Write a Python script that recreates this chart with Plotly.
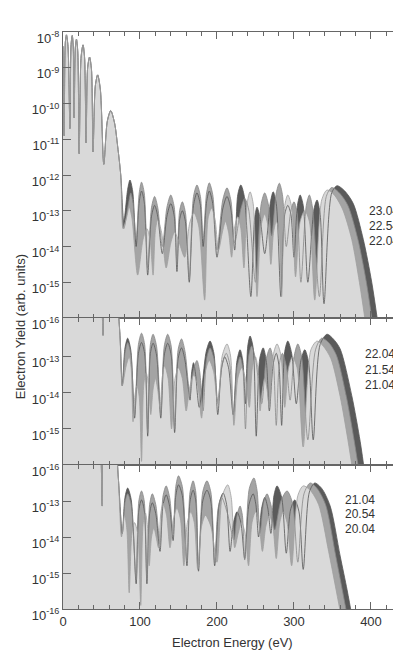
import plotly.graph_objects as go

X_MAX = 439

# ============ data: (electron energy in eV, log10 of yield) ============
# ---- Panel 1 (top): 23.04 / 22.54 / 22.04 ----
P1_LOW = [(0, -8.4), (1.5, -10.9), (3, -8.3), (4.5, -8.08), (6.5, -8.4), (9, -10.7), (10.5, -8.35), (12, -8.1),
          (13.3, -8.4), (14.5, -10.4), (16, -8.45), (17.5, -8.2), (19.2, -8.55), (21, -11.4), (23.5, -8.7), (26, -8.36),
          (28, -8.7), (30, -11.1), (32, -9.0), (34.5, -8.7), (37, -9.05), (39, -11.35), (42, -9.5), (45, -9.2),
          (48.5, -9.6), (53, -11.7), (57.5, -10.5), (62, -10.2), (67, -10.55), (71, -11.2), (75, -12.0)]

P1_DARK = [(79, -13.3), (84, -12.4), (87, -12.14), (90.5, -12.45), (95, -14.0), (99, -12.75), (102, -12.45), (105.5, -12.75),
           (110, -14.8), (115, -13.15), (119, -12.85), (123, -13.15), (129, -14.2), (135, -13.15), (140, -12.8), (144.5, -13.15),
           (148, -14.7), (151.5, -13.25), (155, -13.0), (159, -13.3), (164, -15.0), (169.5, -12.85), (174, -12.5), (178.5, -12.85),
           (182, -14.0), (186.5, -12.75), (190, -12.45), (194.5, -12.8), (200, -14.3), (207.5, -12.95), (213, -12.6), (218, -12.95),
           (223, -14.1), (227, -12.55), (231, -12.28), (235.5, -12.6), (244, -15.4), (249, -13.2), (252, -12.9), (256, -13.2),
           (262, -14.2), (269.5, -12.75), (273, -12.47), (277, -12.8), (283, -15.4), (288, -13.1), (292, -12.85), (296, -13.1),
           (300, -14.3), (304.5, -12.85), (308, -12.56), (312, -12.85), (318, -15.0), (326, -12.95), (330, -12.7), (334, -13.1),
           (339, -15.6), (349, -12.5), (356, -12.3), (366, -12.45), (377, -12.8), (390, -13.8), (401, -15.0), (410, -16.3)]

P1_MID = [(79, -13.5), (85, -12.8), (88, -12.5), (91, -12.8), (95, -13.8), (99, -12.5), (102, -12.2), (105.5, -12.5),
          (110, -14.6), (115, -12.9), (119, -12.6), (123, -12.9), (129, -14.0), (135, -12.9), (140, -12.56), (144.5, -12.9),
          (148, -14.5), (151.5, -13.0), (155, -12.75), (159, -13.05), (164, -14.9), (169.5, -12.6), (174, -12.28), (178.5, -12.6),
          (182, -13.8), (186.5, -12.5), (190, -12.22), (194.5, -12.55), (200, -14.1), (207.5, -12.7), (213, -12.36), (218, -12.7),
          (223, -13.9), (231, -12.95), (236, -12.65), (241, -12.95), (250, -15.0), (257.5, -12.8), (262, -12.5), (266.5, -12.8),
          (271, -13.7), (277, -12.5), (281, -12.23), (285, -12.55), (290, -14.0), (296, -13.0), (300, -12.75), (304, -13.05),
          (309, -15.0), (316, -12.85), (320, -12.56), (324, -12.9), (333, -15.4), (342, -12.6), (349, -12.35), (359, -12.5),
          (370, -12.85), (383, -13.8), (394, -15.0), (403, -16.3)]

P1_LIGHT = [(78, -13.5), (83, -13.15), (86, -12.9), (89.5, -13.2), (97, -14.8), (104, -13.8), (109, -13.5), (113, -13.8),
            (117, -14.8), (120, -13.55), (123, -13.26), (128, -13.6), (134, -14.6), (140, -13.9), (145, -13.6), (151, -13.9),
            (158, -14.3), (164.5, -13.35), (170, -13.06), (176, -13.4), (184, -15.5), (188.5, -13.2), (193, -12.93), (197.5, -13.25),
            (202, -14.1), (207, -13.6), (211, -13.3), (215, -13.6), (219, -14.3), (223, -13.45), (227, -13.17), (231, -13.5),
            (235, -14.6), (239.5, -12.75), (243, -12.47), (247, -12.8), (252, -15.4), (257.5, -13.4), (262, -13.1), (266, -13.4),
            (270, -14.5), (273.5, -13.6), (277, -13.3), (280.5, -13.6), (284, -15.4), (288, -12.85), (292, -12.56), (297, -12.9),
            (302, -14.85), (308, -13.3), (314, -13.0), (320, -13.3), (327, -15.5), (336, -12.7), (343, -12.42), (352, -12.55),
            (363, -12.95), (375, -13.8), (385, -15.0), (394, -16.3)]
P1_LABELS = ["23.04", "22.54", "22.04"]

# ---- Panel 2 (middle): 22.04 / 21.54 / 21.04 ----
P2_LOW = [(0, -9.0), (5, -8.5), (12, -8.5), (20, -9.0), (30, -9.5), (40, -10.0), (49, -10.8), (52, -12.4),
          (55, -10.8), (62, -10.8), (70, -11.4), (74, -12.4)]

P2_DARK = [(77, -13.8), (80.5, -12.75), (84, -12.48), (88, -12.8), (93, -14.7), (98, -12.9), (102, -12.6), (106, -12.9),
           (110, -15.2), (113.5, -12.9), (117, -12.62), (121.5, -12.95), (127, -14.7), (131.5, -12.95), (136, -12.62), (140.5, -12.95),
           (145, -15.1), (149.5, -13.05), (154, -12.75), (158.5, -13.1), (165, -14.2), (167, -13.45), (169.5, -13.16), (172, -13.45),
           (177, -14.4), (186, -12.85), (191, -12.56), (196, -12.9), (201, -14.6), (206, -13.3), (210, -13.0), (215, -13.3),
           (221, -14.6), (226, -13.1), (230, -12.8), (233.5, -13.1), (237, -14.3), (240, -12.7), (243, -12.42), (247, -12.75),
           (251, -15.2), (255.5, -13.05), (260, -12.75), (264, -13.1), (268, -14.5), (273, -13.2), (277, -12.9), (280.5, -13.25),
           (284, -14.9), (288, -12.85), (292, -12.56), (297, -12.9), (303, -14.3), (309, -13.1), (314, -12.8), (319, -13.15),
           (325, -15.3), (334, -12.65), (343, -12.37), (351, -12.5), (360, -12.78), (375, -14.07), (386, -15.35), (393, -16.4)]

P2_MID = [(77, -13.8), (80.5, -12.9), (84, -12.6), (88, -12.9), (93, -14.6), (98, -12.65), (102, -12.34), (106, -12.65),
          (110, -15.1), (113.5, -12.65), (117, -12.37), (121.5, -12.7), (127, -14.6), (131.5, -12.7), (136, -12.37), (140.5, -12.7),
          (145, -15.0), (149.5, -12.8), (154, -12.5), (158.5, -12.85), (165, -14.07), (169.5, -13.35), (174, -13.1), (177.5, -13.4),
          (182, -14.5), (186.5, -13.05), (191, -12.75), (196, -13.05), (201, -14.2), (207, -13.2), (212, -12.9), (216.5, -13.2),
          (221, -14.6), (226, -13.3), (230, -13.0), (233.5, -13.3), (237, -15.0), (241, -13.0), (245, -12.7), (250, -13.05),
          (258, -14.3), (264, -13.05), (269, -12.75), (273, -13.1), (277, -14.9), (281, -13.2), (285, -12.9), (290, -13.25),
          (295, -14.2), (300.5, -12.95), (305, -12.64), (310, -13.0), (318, -15.3), (328, -12.8), (336, -12.48), (345, -12.6),
          (355, -12.95), (368, -14.1), (378, -15.3), (386, -16.4)]

P2_LIGHT = [(77, -13.8), (82, -13.25), (86, -13.0), (88.5, -13.3), (91, -14.8), (93.5, -14.05), (96, -13.8), (99, -14.1),
            (102, -15.9), (105, -13.75), (108, -13.44), (111, -13.75), (114, -14.6), (117, -13.9), (120, -13.6), (123, -13.9),
            (126, -14.4), (129, -13.55), (132, -13.25), (136.5, -13.6), (141, -15.0), (145.5, -13.6), (150, -13.3), (155, -13.6),
            (160, -14.5), (165, -13.8), (170, -13.5), (175, -13.8), (180, -14.7), (185, -13.4), (190, -13.1), (195.5, -13.4),
            (201, -14.3), (207, -12.95), (213, -12.64), (217.5, -12.95), (222, -14.9), (227, -13.6), (232, -13.3), (237, -13.6),
            (242, -14.4), (246, -13.3), (250, -13.0), (253, -13.3), (256, -14.5), (259, -13.9), (262, -13.6), (265, -13.9),
            (268, -14.4), (273, -12.95), (278, -12.64), (283, -12.95), (288, -14.4), (293, -13.3), (298, -13.0), (304, -13.3),
            (312, -15.5), (322, -12.8), (330, -12.56), (338, -12.7), (348, -13.05), (360, -14.1), (370, -15.3), (378, -16.4)]
P2_LABELS = ["22.04", "21.54", "21.04"]

# ---- Panel 3 (bottom): 21.04 / 20.54 / 20.04 ----
P3_LOW = [(0, -9.0), (5, -8.5), (12, -8.5), (20, -9.0), (30, -9.5), (40, -10.0), (48, -11.0), (51, -13.14),
          (54, -11.0), (62, -10.8), (68, -11.3), (72, -12.4)]

P3_DARK = [(77, -13.9), (80.5, -12.9), (84, -12.64), (88.5, -12.95), (95, -15.3), (98.5, -13.25), (102, -12.97), (105.5, -13.25),
           (109, -15.3), (112.5, -13.35), (116, -13.05), (120.5, -13.35), (126, -14.4), (130, -13.1), (134, -12.83), (138.5, -13.15),
           (143, -14.1), (146.5, -12.85), (150, -12.55), (155, -12.85), (161, -14.8), (165, -13.0), (169, -12.7), (172.5, -13.0),
           (176, -14.95), (181.5, -13.0), (187, -12.7), (192, -13.0), (197, -14.8), (203, -13.05), (208, -12.78), (212.5, -13.1),
           (217, -14.4), (221.5, -13.6), (226, -13.3), (231, -13.6), (236, -14.6), (241.5, -13.1), (247, -12.8), (250.5, -13.1),
           (254, -14.0), (258, -13.2), (262, -12.9), (266, -13.2), (270, -13.9), (274, -12.85), (278, -12.58), (284, -12.9),
           (290, -14.45), (295.5, -13.25), (301, -12.97), (306.5, -13.3), (312, -14.9), (320, -12.75), (327, -12.5), (336, -12.65),
           (347, -13.14), (360, -14.53), (369, -15.47), (377, -16.4)]

P3_MID = [(77, -13.9), (80.5, -13.05), (84, -12.8), (88.5, -13.1), (95, -15.2), (98.5, -13.0), (102, -12.72), (105.5, -13.0),
          (109, -15.2), (112.5, -13.1), (116, -12.8), (120.5, -13.1), (126, -14.2), (130, -12.85), (134, -12.58), (138.5, -12.9),
          (143, -13.9), (146.5, -12.6), (150, -12.3), (155, -12.6), (161, -14.7), (165, -12.75), (169, -12.44), (172.5, -12.75),
          (176, -14.85), (181.5, -12.75), (187, -12.44), (192, -12.75), (197, -14.7), (201.5, -13.2), (206, -12.9), (213, -13.3),
          (222, -14.08), (226, -13.4), (230, -13.14), (233, -13.4), (236, -14.64), (242, -12.65), (248, -12.36), (252, -12.7),
          (256, -13.9), (260.5, -13.05), (265, -12.8), (270, -13.1), (275, -13.8), (283, -13.0), (291, -12.72), (298, -13.05),
          (305, -14.7), (313, -12.8), (321, -12.5), (330, -12.65), (341, -13.1), (354, -14.5), (363, -15.5), (371, -16.4)]

P3_LIGHT = [(76, -14.0), (80, -13.4), (83, -13.8), (86, -15.55), (89.5, -13.9), (93, -13.6), (97, -13.9), (101, -15.9),
            (104, -13.65), (107, -13.33), (109.5, -13.65), (112, -14.8), (115, -14.0), (118, -13.75), (121, -14.0), (124, -14.3),
            (127, -13.35), (130, -13.06), (134.5, -13.4), (139, -14.3), (143.5, -13.5), (148, -13.2), (152.5, -13.5), (157, -14.8),
            (161.5, -13.6), (166, -13.3), (170.5, -13.6), (175, -14.9), (180, -13.7), (185, -13.4), (192, -13.7), (200, -14.7),
            (207, -12.85), (214, -12.55), (218.5, -12.9), (223, -14.3), (227.5, -13.9), (232, -13.6), (236.5, -13.9), (241, -14.8),
            (245.5, -13.6), (250, -13.3), (254.5, -13.6), (259, -14.4), (263.5, -13.7), (268, -13.4), (272.5, -13.7), (277, -14.6),
            (281.5, -13.6), (286, -13.3), (291, -13.6), (297, -14.8), (305, -12.85), (312, -12.58), (321, -12.7), (332, -13.1),
            (345, -14.4), (355, -15.5), (363, -16.4)]
P3_LABELS = ["21.04", "20.54", "20.04"]

X_TICKS = [0, 100, 200, 300, 400]
P1_YTICKS = [-8, -9, -10, -11, -12, -13, -14, -15, -16]
P23_YTICKS = [-13, -14, -15, -16]

# ============ styling ============
FILL = {"dark": "#5a5a5a", "mid": "#a4a4a4", "light": "#d9d9d9"}
LINE = {"dark": "#555555", "mid": "#888888", "light": "#a0a0a0"}
FONT = "Liberation Sans, Arial, sans-serif"
TXT = "#333333"
AX = "#666666"
BASE = 1e-18
KEYS = ["dark", "mid", "light"]

fig = go.Figure()

panels = [
    ("x", "y", P1_LOW, [P1_DARK, P1_MID, P1_LIGHT]),
    ("x2", "y2", P2_LOW, [P2_DARK, P2_MID, P2_LIGHT]),
    ("x3", "y3", P3_LOW, [P3_DARK, P3_MID, P3_LIGHT]),
]

for xa, ya, low, series in panels:
    full = []
    for s in series:
        pts = list(low) + list(s)
        full.append(([p[0] for p in pts], [10 ** p[1] for p in pts]))
    for k, (xs, ys) in zip(KEYS, full):
        fig.add_trace(go.Scatter(x=[0, X_MAX], y=[BASE, BASE], mode="lines", line=dict(width=0),
                                 xaxis=xa, yaxis=ya, showlegend=False, hoverinfo="skip"))
        fig.add_trace(go.Scatter(x=xs, y=ys, mode="lines", fill="tonexty", fillcolor=FILL[k],
                                 line=dict(width=0, color=FILL[k], shape="spline", smoothing=0.8),
                                 xaxis=xa, yaxis=ya, showlegend=False, hoverinfo="skip"))
    for k, (xs, ys) in zip(KEYS, full):
        fig.add_trace(go.Scatter(x=xs, y=ys, mode="lines",
                                 line=dict(width=0.8, color=LINE[k], shape="spline", smoothing=0.8),
                                 xaxis=xa, yaxis=ya, showlegend=False, hoverinfo="skip"))

# ============ axes ============
# page body has an 8 px margin, so the figure is 8 px smaller and the plot area keeps its place
W, H = 393, 645
ML, MT, MB = 55, 24, 44
H_PLOT = H - MT - MB          # 577
d3 = 144 / H_PLOT
d2 = 291 / H_PLOT


def xaxis(show_labels, anchor):
    return dict(range=[0, X_MAX], anchor=anchor, showline=True, linecolor=AX, linewidth=1,
                mirror="allticks", ticks="inside", ticklen=7, tickcolor=AX, tickwidth=1,
                tickvals=X_TICKS, ticktext=[str(t) for t in X_TICKS], showticklabels=show_labels,
                minor=dict(dtick=20, tick0=0, ticks="inside", ticklen=4, tickcolor=AX),
                showgrid=False, zeroline=False,
                tickfont=dict(family=FONT, size=13, color=TXT))


def yaxis(rng, dom, ticks, anchor):
    return dict(type="log", range=rng, domain=dom, anchor=anchor, showline=True, linecolor=AX,
                linewidth=1, mirror="allticks", ticks="inside", ticklen=8, tickcolor=AX,
                tickvals=[10 ** t for t in ticks],
                ticktext=["10<sup>%d</sup>" % t for t in ticks],
                ticklabelshift=6,
                showgrid=False, zeroline=False,
                tickfont=dict(family=FONT, size=13, color=TXT))


fig.update_layout(
    width=W, height=H,
    margin=dict(l=ML, r=0, t=MT, b=MB),
    paper_bgcolor="white", plot_bgcolor="white",
    showlegend=False,
    xaxis=xaxis(False, "y"),
    xaxis2=xaxis(False, "y2"),
    xaxis3=xaxis(True, "y3"),
    yaxis=yaxis([-16, -8], [d2, 1], P1_YTICKS, "x"),
    yaxis2=yaxis([-16, -11.92], [d3, d2], P23_YTICKS, "x2"),
    yaxis3=yaxis([-16, -12], [0, d3], P23_YTICKS, "x3"),
)

# ============ right-hand labels with leader lines ============
label_specs = [
    ("x", "y", P1_LABELS, [-13.0, -13.43, -13.85], 395, [(357, 386), (357, 382), (369, 386)]),
    ("x2", "y2", P2_LABELS, [-12.92, -13.36, -13.77], 390, [(338, 379), (340, 379), (351, 379)]),
    ("x3", "y3", P3_LABELS, [-12.97, -13.36, -13.78], 364, [(321, 360), (321, 357), (336, 360)]),
]
for xa, ya, labels, ys, xt, segs in label_specs:
    for lab, yv, (x0, x1) in zip(labels, ys, segs):
        fig.add_shape(type="line", xref=xa, yref=ya, x0=x0, x1=x1, y0=yv, y1=yv,
                      line=dict(color="#777777", width=1))
        fig.add_annotation(xref=xa, yref=ya, x=xt, y=yv, text=lab, showarrow=False,
                           xanchor="left", yanchor="middle",
                           font=dict(family=FONT, size=12, color=TXT))

# ============ axis titles ============
fig.add_annotation(xref="paper", yref="paper", x=0.5, y=-33 / H_PLOT,
                   text="Electron Energy (eV)", showarrow=False, xanchor="center", yanchor="middle",
                   font=dict(family=FONT, size=13, color=TXT))
fig.add_annotation(xref="paper", yref="paper", x=-43 / 338, y=0.49,
                   text="Electron Yield (arb. units)", showarrow=False, textangle=-90,
                   xanchor="center", yanchor="middle",
                   font=dict(family=FONT, size=13, color=TXT))

fig.write_html("out.html")
